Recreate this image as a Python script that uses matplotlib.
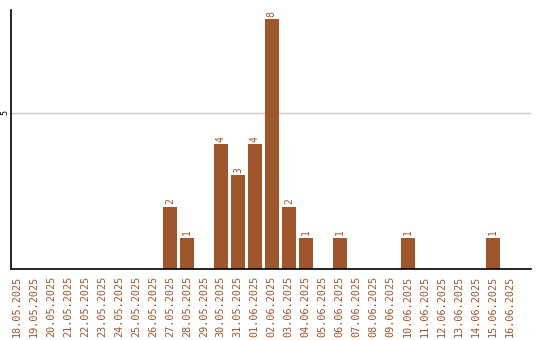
import matplotlib
matplotlib.use("Agg")
import matplotlib.pyplot as plt

dates = ['18.05.2025', '19.05.2025', '20.05.2025', '21.05.2025', '22.05.2025',
         '23.05.2025', '24.05.2025', '25.05.2025', '26.05.2025', '27.05.2025',
         '28.05.2025', '29.05.2025', '30.05.2025', '31.05.2025', '01.06.2025',
         '02.06.2025', '03.06.2025', '04.06.2025', '05.06.2025', '06.06.2025',
         '07.06.2025', '08.06.2025', '09.06.2025', '10.06.2025', '11.06.2025',
         '12.06.2025', '13.06.2025', '14.06.2025', '15.06.2025', '16.06.2025']
counts = [0, 0, 0, 0, 0, 0, 0, 0, 0, 2,
          1, 0, 4, 3, 4, 8, 2, 1, 0, 1,
          0, 0, 0, 1, 0, 0, 0, 0, 1, 0]

bar_color = '#a0562b'
x = list(range(len(dates)))

fig = plt.figure(figsize=(5.4, 3.4), dpi=100)
ax = fig.add_axes([0.0204, 0.2088, 0.9626, 0.7618])

ax.bar(x, counts, width=0.82, color=bar_color, zorder=2)

# value labels above non-zero bars
for xi, c in zip(x, counts):
    if c > 0:
        ax.text(xi, c + 0.08, str(c), rotation=90, ha='center', va='bottom',
                color=bar_color, fontsize=7, family='DejaVu Sans Mono')

ax.set_xlim(-0.35, 30.24)
ax.set_ylim(0, 8.3)
ax.set_yticks([5])
ax.set_yticklabels(['5'], rotation=90, va='center', fontsize=6,
                   family='DejaVu Sans Mono')
ax.yaxis.grid(True, color='#c8c8c8', linewidth=1, zorder=0)
ax.tick_params(axis='y', length=0, pad=1)

ax.set_xticks(x)
ax.set_xticklabels(dates, rotation=90, fontsize=7.3, color=bar_color,
                   family='DejaVu Sans Mono')
ax.tick_params(axis='x', length=0, pad=5)

ax.spines['top'].set_visible(False)
ax.spines['right'].set_visible(False)
ax.spines['left'].set_linewidth(1.2)
ax.spines['bottom'].set_linewidth(1.2)

fig.savefig('out.png', dpi=100)
